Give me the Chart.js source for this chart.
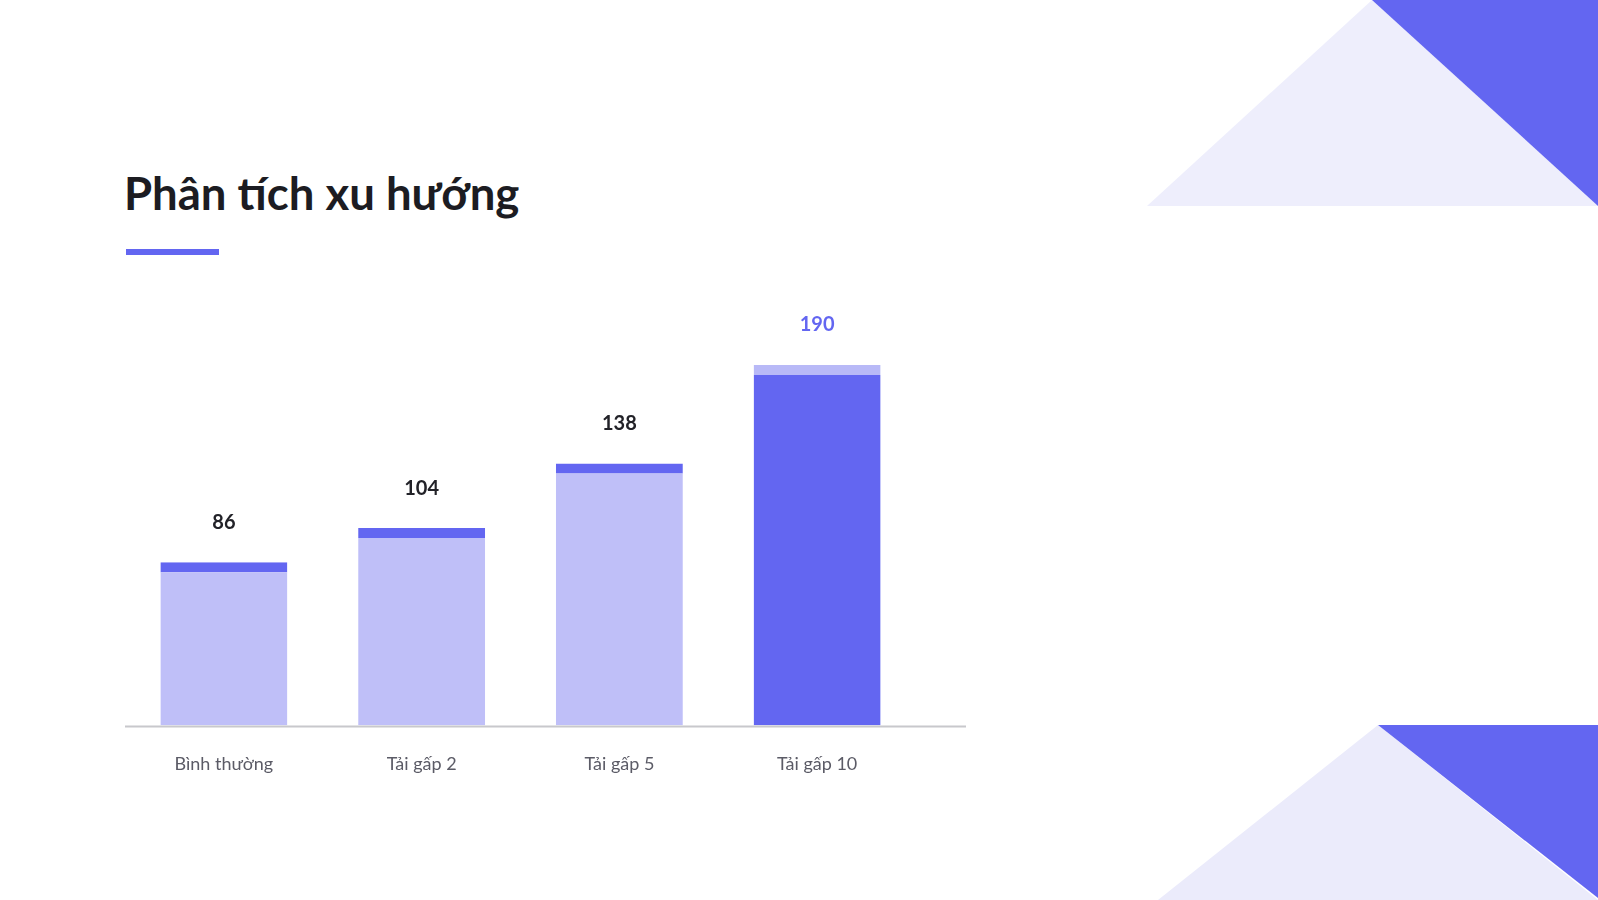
<!DOCTYPE html>
<html>
<head>
<meta charset="utf-8">
<script src="https://cdn.jsdelivr.net/npm/chart.js@4"></script>
<style>
  html, body { margin: 0; padding: 0; background: #ffffff; }
  body { width: 1598px; height: 900px; position: relative; overflow: hidden; font-family: Lato, "Noto Sans", sans-serif; }
  #title { position: absolute; left: 124px; top: 165px; margin: 0; font-size: 45.5px; font-weight: 700; color: #1c1c22; }
  #rule { position: absolute; left: 126px; top: 249px; width: 93px; height: 6px; background: #6366f1; }
  #deco { position: absolute; left: 0; top: 0; }
  #wrap { position: absolute; left: 125px; top: 290px; width: 841px; height: 513px; }
</style>
</head>
<body>
<svg id="deco" width="1598" height="900">
  <polygon points="1147,206 1372,0 1598,206" fill="#eeeefc"/>
  <polygon points="1372,0 1598,0 1598,206" fill="#6366f1"/>
  <polygon points="1158,900 1378,725 1598,900" fill="#ebebfb"/>
  <polygon points="1378,725 1598,725 1598,898" fill="#6366f1"/>
</svg>
<h1 id="title">Phân tích xu hướng</h1>
<div id="rule"></div>
<div id="wrap"><canvas id="chart"></canvas></div>
<script>
  // data
  var categories = ["Bình thường", "Tải gấp 2", "Tải gấp 5", "Tải gấp 10"];
  var values = [86, 104, 138, 190];
  var highlight = 3;

  var accent = "#6366f1";
  var soft = "#bfbff8";

  // value labels above bars
  var valueLabels = {
    id: "valueLabels",
    afterDatasetsDraw: function (chart) {
      var ctx = chart.ctx;
      var meta = chart.getDatasetMeta(0);
      ctx.save();
      ctx.font = "bold 20px Lato";
      ctx.textAlign = "center";
      ctx.textBaseline = "middle";
      meta.data.forEach(function (bar, i) {
        ctx.fillStyle = i === highlight ? accent : "#222228";
        ctx.fillText(String(values[i]), bar.x, bar.y - 40);
      });
      ctx.restore();
    },
  };

  // baseline runs a bit past the last bar
  var baseline = {
    id: "baseline",
    afterDatasetsDraw: function (chart) {
      var ctx = chart.ctx;
      var y = chart.scales.y.getPixelForValue(0);
      ctx.save();
      ctx.strokeStyle = "#c8c8cc";
      ctx.lineWidth = 2;
      ctx.beginPath();
      ctx.moveTo(chart.chartArea.left, y + 1);
      ctx.lineTo(chart.width, y + 1);
      ctx.stroke();
      ctx.restore();
    },
  };

  var ctx1 = document.getElementById("chart").getContext("2d");
  var myChart = new Chart(ctx1, {
    type: "bar",
    data: {
      labels: categories,
      datasets: [
        {
          data: values,
          backgroundColor: values.map(function (v, i) { return i === highlight ? accent : soft; }),
          borderColor: values.map(function (v, i) { return i === highlight ? "#b8b9f7" : accent; }),
          borderWidth: { top: 10, left: 0, right: 0, bottom: 0 },
          borderSkipped: "bottom",
          barPercentage: 0.642,
          categoryPercentage: 1,
        },
      ],
    },
    options: {
      responsive: true,
      maintainAspectRatio: false,
      animation: false,
      layout: { padding: { top: 56, right: 50, left: 0, bottom: 0 } },
      plugins: {
        legend: { display: false },
        tooltip: { enabled: false },
      },
      scales: {
        x: {
          grid: { display: false, drawTicks: false },
          border: { display: false },
          ticks: { color: "#5b5b66", font: { family: "Lato", size: 18 }, padding: 28 },
        },
        y: {
          display: false,
          min: 0,
          max: 200,
        },
      },
    },
    plugins: [baseline, valueLabels],
  });
</script>
</body>
</html>
